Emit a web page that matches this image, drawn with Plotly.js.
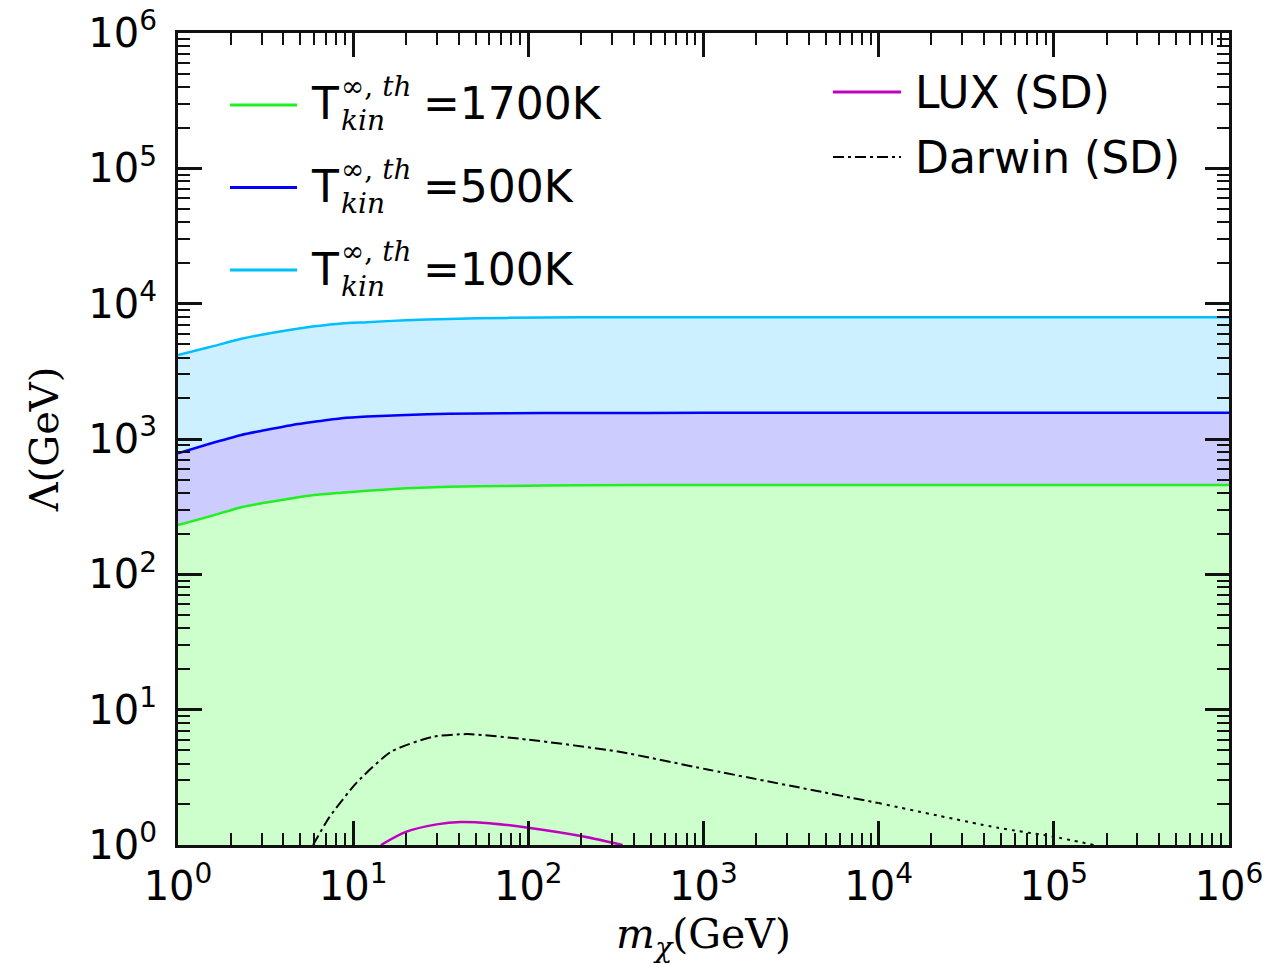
<!DOCTYPE html>
<html><head><meta charset="utf-8">
<script src="https://cdn.plot.ly/plotly-3.0.1.min.js"></script>
<style>html,body{margin:0;padding:0;background:#fff}#chart{width:1271px;height:964px}</style>
</head><body><div id="chart"></div>
<script>
// ---- data ----
const mass = [1, 1.5, 2.3, 3, 4.5, 6, 8.6, 12, 20, 35, 75, 200, 1000, 10000, 100000, 1000000];
const lambda100K = [4180, 4760, 5500, 5900, 6450, 6800, 7150, 7300, 7550, 7720, 7850, 7940, 7950, 7950, 7950, 7950];
const lambda500K = [784, 918, 1071, 1150, 1270, 1340, 1423, 1465, 1505, 1535, 1550, 1556, 1560, 1560, 1560, 1560];
const lambda1700K = [231, 267, 313, 335, 365, 385, 401, 415, 432, 443, 450, 455, 457, 457, 457, 457];
const floorMass = [1, 1000000];
const floorLambda = [0.5, 0.5];

const darwinMass = [5.9, 7.3, 10.5, 16.5, 28.5, 45, 100, 325, 1070, 10000];
const darwinLambda = [1.0, 1.6, 2.9, 4.9, 6.3, 6.6, 6.0, 4.9, 3.6, 2.04];
const darwinTailMass = [10000, 48000, 100000, 170000];
const darwinTailLambda = [2.04, 1.34, 1.15, 1.0];

const luxMass = [14.4, 20, 30, 41, 60, 100, 210, 345];
const luxLambda = [1.0, 1.25, 1.42, 1.48, 1.45, 1.34, 1.15, 1.0];

const majorTickVals = [1, 10, 100, 1000, 10000, 100000, 1000000];
const majorTickText = ['10<sup>0</sup>', '10<sup>1</sup>', '10<sup>2</sup>', '10<sup>3</sup>', '10<sup>4</sup>', '10<sup>5</sup>', '10<sup>6</sup>'];
const minorTickVals = [];
for (let d = 0; d < 6; d++) for (let k = 2; k <= 9; k++) minorTickVals.push(k * Math.pow(10, d));

const tempLabels = ['=1700K', '=500K', '=100K'];
const expLabels = ['LUX (SD)', 'Darwin (SD)'];

// ---- styles ----
const C_GREEN = '#22ee22', C_BLUE = '#0000ff', C_CYAN = '#00bfff';
const F_GREEN = '#ccffcc', F_BLUE = '#ccccff', F_CYAN = '#ccf0ff';
const C_LUX = '#c000c0';

const L = 178, R = 1229, T = 33, B = 845;
const px = x => (x - L) / (R - L);
const py = y => (B - y) / (B - T);

const traces = [
  {x: floorMass, y: floorLambda, mode: 'lines', line: {width: 0, color: F_GREEN}, hoverinfo: 'skip'},
  {x: mass, y: lambda1700K, mode: 'lines', fill: 'tonexty', fillcolor: F_GREEN, line: {color: C_GREEN, width: 2.5, shape: 'spline', smoothing: 0.6}},
  {x: mass, y: lambda500K, mode: 'lines', fill: 'tonexty', fillcolor: F_BLUE, line: {color: C_BLUE, width: 2.5, shape: 'spline', smoothing: 0.6}},
  {x: mass, y: lambda100K, mode: 'lines', fill: 'tonexty', fillcolor: F_CYAN, line: {color: C_CYAN, width: 2.5, shape: 'spline', smoothing: 0.6}},
  {x: luxMass, y: luxLambda, mode: 'lines', line: {color: C_LUX, width: 2.5, shape: 'spline', smoothing: 0.8}},
  {x: darwinMass, y: darwinLambda, mode: 'lines', line: {color: '#000', width: 2, dash: '11px,4px,3px,4px', shape: 'spline', smoothing: 0.6}},
  {x: darwinTailMass, y: darwinTailLambda, mode: 'lines', line: {color: '#000', width: 2, dash: '3px,5px', shape: 'spline', smoothing: 0.6}}
];

const rowY = [105, 187.5, 270];
const rowColors = [C_GREEN, C_BLUE, C_CYAN];
const shapes = [];
const annotations = [];
const sansBig = {family: 'DejaVu Sans', size: 44, color: '#000'};
const serifSmall = {family: 'DejaVu Serif', size: 28, color: '#000'};
rowY.forEach((yy, i) => {
  shapes.push({type: 'line', xref: 'paper', yref: 'paper', x0: px(230), x1: px(297), y0: py(yy), y1: py(yy), line: {color: rowColors[i], width: 3}});
  annotations.push({xref: 'paper', yref: 'paper', x: px(309), y: py(yy - 1), xanchor: 'left', yanchor: 'middle', showarrow: false, text: 'T', font: sansBig});
  annotations.push({xref: 'paper', yref: 'paper', x: px(339), y: py(yy - 18), xanchor: 'left', yanchor: 'middle', showarrow: false, text: '∞, <i>th</i>', font: serifSmall});
  annotations.push({xref: 'paper', yref: 'paper', x: px(339), y: py(yy + 16), xanchor: 'left', yanchor: 'middle', showarrow: false, text: '<i>kin</i>', font: serifSmall});
  annotations.push({xref: 'paper', yref: 'paper', x: px(421), y: py(yy - 1), xanchor: 'left', yanchor: 'middle', showarrow: false, text: tempLabels[i], font: sansBig});
});
const rightY = [92, 157];
shapes.push({type: 'line', xref: 'paper', yref: 'paper', x0: px(833), x1: px(901), y0: py(rightY[0]), y1: py(rightY[0]), line: {color: C_LUX, width: 3}});
shapes.push({type: 'line', xref: 'paper', yref: 'paper', x0: px(833), x1: px(901), y0: py(rightY[1]), y1: py(rightY[1]), line: {color: '#000', width: 2, dash: '11px,4px,3px,4px'}});
expLabels.forEach((t, i) => {
  annotations.push({xref: 'paper', yref: 'paper', x: px(913), y: py(rightY[i]), xanchor: 'left', yanchor: 'middle', showarrow: false, text: t, font: sansBig});
});

const axisCommon = {
  type: 'log', range: [0, 6], showgrid: false, zeroline: false,
  showline: true, linecolor: '#111', linewidth: 3, mirror: 'allticks',
  ticks: 'inside', ticklen: 24, tickwidth: 2.5, tickcolor: '#111',
  tickmode: 'array', tickvals: majorTickVals, ticktext: majorTickText,
  tickfont: {family: 'DejaVu Sans', size: 40, color: '#000'},
  minor: {tickmode: 'array', tickvals: minorTickVals, ticks: 'inside', ticklen: 12, tickwidth: 2, tickcolor: '#111', showgrid: false}
};

const layout = {
  width: 1271, height: 964,
  margin: {l: L, r: 1271 - R, t: T, b: 964 - B},
  paper_bgcolor: '#fff', plot_bgcolor: '#fff',
  showlegend: false,
  xaxis: Object.assign({}, axisCommon, {
    ticklabelstandoff: 4,
    title: {text: '<i>m</i><sub><i>χ</i></sub>(GeV)', font: {family: 'DejaVu Serif', size: 41, color: '#000'}, standoff: 16}
  }),
  yaxis: Object.assign({}, axisCommon, {
    ticklabelstandoff: 10,
    title: {text: 'Λ(GeV)', font: {family: 'DejaVu Serif', size: 40, color: '#000'}, standoff: 18}
  }),
  shapes: shapes,
  annotations: annotations
};

Plotly.newPlot('chart', traces, layout, {displayModeBar: false});
</script>
</body></html>
